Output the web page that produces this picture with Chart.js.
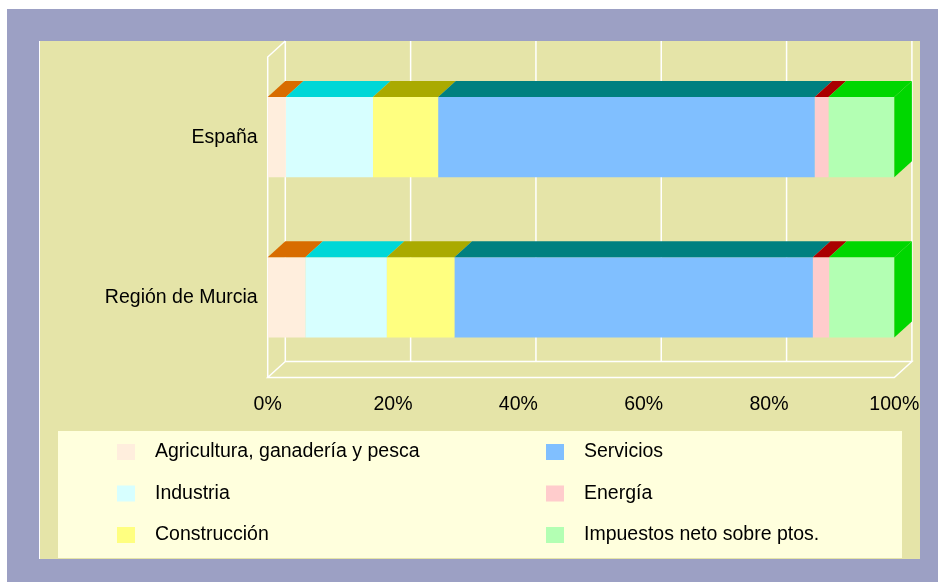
<!DOCTYPE html>
<html>
<head>
<meta charset="utf-8">
<script src="https://cdn.jsdelivr.net/npm/chart.js@4/dist/chart.umd.min.js"></script>
<style>
  html, body { margin: 0; padding: 0; background: #fff; }
  canvas { display: block; }
</style>
</head>
<body>
<canvas id="c" width="938" height="582"></canvas>
<script>
const regions = ["España", "Región de Murcia"];
const sectors = ["Agricultura, ganadería y pesca", "Industria", "Construcción",
                 "Servicios", "Energía", "Impuestos neto sobre ptos."];
const agricultura = [2.9, 6.0];
const industria = [13.9, 13.0];
const construccion = [10.4, 10.8];
const servicios = [60.1, 57.2];
const energia = [2.2, 2.6];
const impuestos = [10.5, 10.4];
const tickValues = [0, 20, 40, 60, 80, 100];

const frontColors = ["#FFEEDD", "#D7FFFF", "#FFFF80", "#80BFFF", "#FFCCCC", "#B3FFB3"];
const topColors = ["#D86C00", "#00D7D7", "#AAAA00", "#008080", "#AA0000", "#00D700"];

const DX = 17.6, DY = 16;
const FAMILY = "'Liberation Sans', Arial, sans-serif";
const SIZE = 19.5;

const seriesValues = [agricultura, industria, construccion, servicios, energia, impuestos];
const datasets = sectors.map((name, i) => ({
  label: name,
  data: seriesValues[i],
  backgroundColor: frontColors[i],
  borderWidth: 0,
  categoryPercentage: 0.5,
  barPercentage: 1
}));

// frame, back wall, floor and side wall
const backdrop = {
  id: "backdrop",
  beforeDraw(chart) {
    const ctx = chart.ctx;
    ctx.save();
    ctx.fillStyle = "#fff";
    ctx.fillRect(0, 0, 938, 582);
    ctx.fillStyle = "#9CA0C4";
    ctx.fillRect(7, 9, 931, 573);
    ctx.fillStyle = "#E5E4A8";
    ctx.fillRect(39, 41, 881, 518);
    ctx.fillStyle = "#fff";
    ctx.fillRect(39, 41, 1, 518);
    ctx.fillStyle = "#FFFFDD";
    ctx.fillRect(58, 431, 844, 127);
    ctx.restore();
  },
  beforeDatasetsDraw(chart) {
    const ctx = chart.ctx;
    const a = chart.chartArea;
    const x = chart.scales.x;
    ctx.save();
    ctx.strokeStyle = "#fff";
    ctx.lineWidth = 1.5;
    ctx.beginPath();
    // back wall grid lines
    tickValues.forEach(v => {
      const px = x.getPixelForValue(v) + DX;
      ctx.moveTo(px, a.top - DY);
      ctx.lineTo(px, a.bottom - DY);
    });
    // floor
    ctx.moveTo(a.left + DX, a.bottom - DY);
    ctx.lineTo(a.right + DX, a.bottom - DY);
    ctx.lineTo(a.right, a.bottom);
    ctx.lineTo(a.left, a.bottom);
    ctx.lineTo(a.left + DX, a.bottom - DY);
    // side wall
    ctx.moveTo(a.left, a.bottom);
    ctx.lineTo(a.left, a.top);
    ctx.lineTo(a.left + DX, a.top - DY);
    ctx.stroke();
    ctx.restore();
  },
  afterDatasetsDraw(chart) {
    const ctx = chart.ctx;
    ctx.save();
    const n = chart.data.datasets.length;
    chart.data.datasets.forEach((ds, i) => {
      chart.getDatasetMeta(i).data.forEach(bar => {
        const x0 = Math.min(bar.x, bar.base), x1 = Math.max(bar.x, bar.base);
        const yT = bar.y - bar.height / 2, yB = bar.y + bar.height / 2;
        ctx.fillStyle = topColors[i];
        ctx.beginPath();
        ctx.moveTo(x0, yT);
        ctx.lineTo(x1, yT);
        ctx.lineTo(x1 + DX, yT - DY);
        ctx.lineTo(x0 + DX, yT - DY);
        ctx.closePath();
        ctx.fill();
        if (i === n - 1) {
          ctx.beginPath();
          ctx.moveTo(x1, yT);
          ctx.lineTo(x1 + DX, yT - DY);
          ctx.lineTo(x1 + DX, yB - DY);
          ctx.lineTo(x1, yB);
          ctx.closePath();
          ctx.fill();
        }
      });
    });
    ctx.restore();
  },
  afterDraw(chart) {
    const ctx = chart.ctx;
    ctx.save();
    ctx.font = SIZE + "px " + FAMILY;
    ctx.textBaseline = "middle";
    const rows = [452, 493.5, 535];
    chart.data.datasets.forEach((ds, i) => {
      const col = i < 3 ? 0 : 1;
      const cy = rows[i % 3];
      ctx.fillStyle = ds.backgroundColor;
      ctx.fillRect(117 + col * 429, cy - 8, 18, 16);
      ctx.fillStyle = "#000";
      ctx.fillText(ds.label, 155 + col * 429, cy);
    });
    ctx.restore();
  }
};

new Chart(document.getElementById("c"), {
  type: "bar",
  data: { labels: regions, datasets },
  options: {
    indexAxis: "y",
    responsive: false,
    animation: false,
    layout: { padding: { left: 0, right: 43.7, top: 57, bottom: 0 } },
    plugins: { legend: { display: false }, tooltip: { enabled: false } },
    scales: {
      x: {
        stacked: true,
        min: 0,
        max: 100,
        grid: { display: false, drawTicks: false },
        border: { display: false },
        ticks: {
          stepSize: 20,
          padding: 15,
          color: "#000",
          font: { family: FAMILY, size: SIZE },
          callback: v => v + "%"
        },
        afterFit: s => { s.height = 204.5; }
      },
      y: {
        stacked: true,
        grid: { display: false, drawTicks: false },
        border: { display: false },
        ticks: {
          padding: 10,
          color: "#000",
          font: { family: FAMILY, size: SIZE }
        },
        afterFit: s => { s.width = 267.7; }
      }
    }
  },
  plugins: [backdrop]
});
</script>
</body>
</html>
